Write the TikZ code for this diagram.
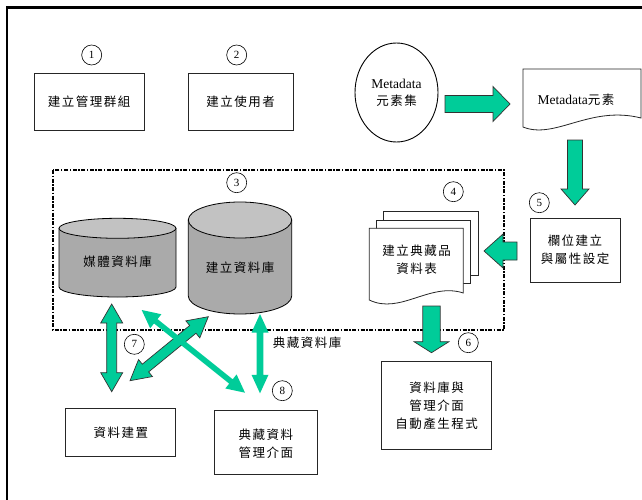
\documentclass[tikz,border=0pt]{standalone}
\usepackage{fontspec}
\setmainfont{Liberation Serif}
\newfontfamily\cjk{Noto Sans CJK TC}[LetterSpace=12]
\usetikzlibrary{calc,shapes.geometric}
\definecolor{agreen}{RGB}{0,204,153}
\definecolor{cylbody}{RGB}{170,170,170}
\definecolor{cyltop}{RGB}{194,194,194}

\tikzset{
  box/.style={draw=black!85, line width=0.9pt, fill=white, align=center, inner sep=0pt},
  num/.style={circle, draw, line width=0.6pt, minimum size=20pt, inner sep=0pt, font=\fontsize{11}{11}\selectfont},
  txt/.style={font=\cjk\fontsize{12.5}{18}\selectfont, align=center, inner sep=0pt},
  latin/.style={font=\fontsize{13.5}{17}\selectfont, align=center, inner sep=0pt},
  bigarrow/.style={fill=agreen, draw=black!80, line width=0.7pt, line join=miter},
  slimarrow/.style={fill=agreen, draw=none},
  page/.style={draw=black!85, line width=0.8pt, fill=white},
  cyl/.style={draw=black, line width=0.8pt},
}

% double block arrow: #1 style, #2 A, #3 B, #4 body half width, #5 head half width, #6 head length
\newcommand\dblarr[6]{%
  \coordinate (ha) at ($(#2)!#6!(#3)$);
  \coordinate (hb) at ($(#3)!#6!(#2)$);
  \path[#1] (#2) -- ($(ha)!#5!90:(#3)$) -- ($(ha)!#4!90:(#3)$) -- ($(hb)!#4!-90:(#2)$)
    -- ($(hb)!#5!-90:(#2)$) -- (#3) -- ($(hb)!#5!90:(#2)$) -- ($(hb)!#4!90:(#2)$)
    -- ($(ha)!#4!-90:(#3)$) -- ($(ha)!#5!-90:(#3)$) -- cycle;
}
% single block arrow: tail #2, tip #3
\newcommand\sglarr[6]{%
  \coordinate (hb) at ($(#3)!#6!(#2)$);
  \path[#1] ($(#2)!#4!90:(#3)$) -- ($(hb)!#4!-90:(#2)$) -- ($(hb)!#5!-90:(#2)$) -- (#3)
    -- ($(hb)!#5!90:(#2)$) -- ($(hb)!#4!90:(#2)$) -- ($(#2)!#4!-90:(#3)$) -- cycle;
}

\begin{document}
\begin{tikzpicture}[x=1pt, y=-1pt]
\useasboundingbox (0,0) rectangle (642,500);

% outer frame
\draw[line width=2.5pt] (7,520) -- (7,7.7) -- (660,7.7);

% dotted group frame
\draw[line width=1.6pt, dash pattern=on 4pt off 1.5pt on 1.5pt off 1.5pt] (53,170) rectangle (504,330);

% top boxes
\node[num] (n1) at (91.7,55) {1};
\node[box, minimum width=110pt, minimum height=57pt] (b1) at (89,101.5) {};
\node[txt] (t1) at (b1) {建立管理群組};
\node[num] (n2) at (236.7,55) {2};
\node[box, minimum width=105pt, minimum height=57pt] (b2) at (240.5,101.5) {};
\node[txt] (t2) at (b2) {建立使用者};

% metadata ellipse
\node[ellipse, draw, line width=0.9pt, minimum width=83pt, minimum height=99pt, inner sep=0pt] (md) at (396.5,92.5) {};
\node[latin] (mdt) at (396.5,93) {Metadata\\{\cjk\fontsize{12.5}{17}\selectfont 元素集}};

% metadata element document
\path[page] (523,69) -- (641,69) -- (641,118) .. controls (590,105) and (555,140) .. (523,127) -- cycle;
\node[latin] (me) at (576,100) {Metadata{\cjk\fontsize{12.5}{17}\selectfont 元素}};

% arrow ellipse -> document
\coordinate (a1s) at (445,104);
\coordinate (a1e) at (510,104);
\sglarr{bigarrow}{a1s}{a1e}{8.5pt}{17.5pt}{17pt}

% arrow document -> field box
\coordinate (a2s) at (575,140);
\coordinate (a2e) at (575,205);
\sglarr{bigarrow}{a2s}{a2e}{7.5pt}{14pt}{16pt}

% field box
\node[num] (n5) at (539.3,202.7) {5};
\node[box, minimum width=90pt, minimum height=64pt] (b5) at (575,250) {};
\node[txt] (t5) at (b5) {欄位建立\\與屬性設定};

% arrow field box -> stack
\coordinate (a3s) at (517,251);
\coordinate (a3e) at (484,251);
\sglarr{bigarrow}{a3s}{a3e}{9pt}{17pt}{19pt}

% document stack
\node[num] (n4) at (453.3,191.7) {4};
\path[page] (383.3,211.7) rectangle (478.3,275);
\path[page] (376.7,220) rectangle (470.7,283.3);
\path[page] (369.3,228.3) -- (463.3,228.3) -- (463.3,293) .. controls (430,282) and (400,315) .. (369.3,300) -- cycle;
\node[txt] (t4) at (416.7,259.5) {建立典藏品\\資料表};

% arrow stack -> generator box
\coordinate (a4s) at (431.5,306);
\coordinate (a4e) at (431.5,352.7);
\sglarr{bigarrow}{a4s}{a4e}{8.7pt}{17.5pt}{11pt}
\node[num] (n6) at (468.3,342.7) {6};
\node[box, minimum width=110pt, minimum height=88pt] (b6) at (436.7,405.8) {};
\node[txt] (t6) at (b6) {資料庫與\\管理介面\\自動產生程式};

% cylinders
\node[num] (n3) at (236.7,182.7) {3};
\path[cyl, fill=cylbody] (59,228.3) -- (59,287) arc[start angle=180, end angle=0, x radius=58.5, y radius=10] -- (176,228.3) -- cycle;
\path[cyl, fill=cyltop] (117.5,228.3) ellipse[x radius=58.5, y radius=10];
\node[txt] (c1) at (117.5,262) {媒體資料庫};

\path[cyl, fill=cylbody] (188.3,220) -- (188.3,296) arc[start angle=180, end angle=0, x radius=51.7, y radius=18] -- (291.7,220) -- cycle;
\path[cyl, fill=cyltop] (240,220) ellipse[x radius=51.7, y radius=18];
\node[txt] (c2) at (240,267.5) {建立資料庫};

% lower boxes
\node[box, minimum width=110pt, minimum height=48.5pt] (b7) at (120.8,432.5) {};
\node[txt] (t7) at (b7) {資料建置};
\node[box, minimum width=103pt, minimum height=64pt] (b8) at (265.8,442) {};
\node[txt] (t8) at (265.8,443.5) {典藏資料\\管理介面};

% double arrows
\coordinate (d1a) at (111.7,304);
\coordinate (d1b) at (111.7,391.7);
\dblarr{bigarrow}{d1a}{d1b}{5pt}{11pt}{19pt}
\coordinate (d2a) at (208.3,316.7);
\coordinate (d2b) at (130,380.7);
\dblarr{bigarrow}{d2a}{d2b}{5pt}{11pt}{20pt}
\coordinate (d3a) at (141.7,310);
\coordinate (d3b) at (245,392.7);
\dblarr{slimarrow}{d3a}{d3b}{2.8pt}{9pt}{18pt}
\coordinate (d4a) at (260,314);
\coordinate (d4b) at (260,393.3);
\dblarr{slimarrow}{d4a}{d4b}{3.3pt}{8.5pt}{18.5pt}

\node[num] (n7) at (134.3,344.3) {7};
\node[num] (n8) at (282.3,390.7) {8};
\node[txt] (lbl) at (307,342.7) {典藏資料庫};
\end{tikzpicture}
\end{document}
